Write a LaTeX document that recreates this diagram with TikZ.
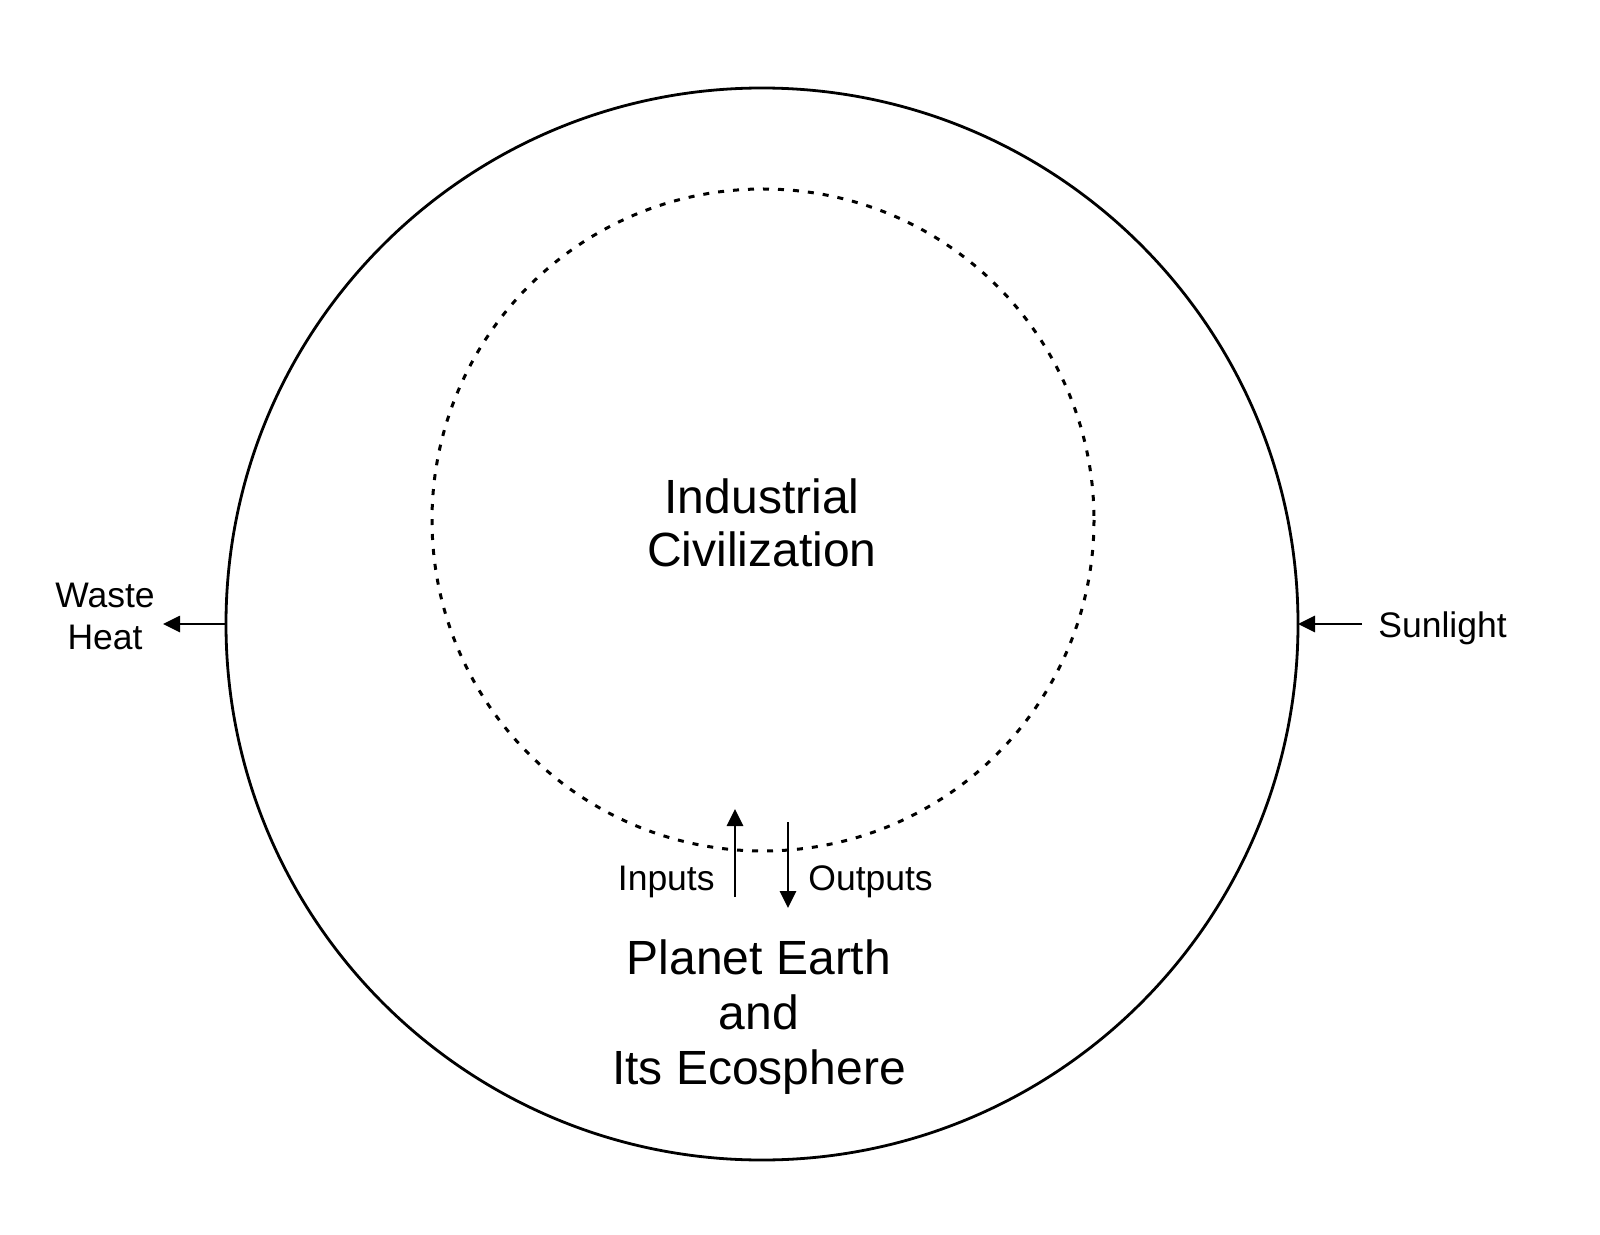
\documentclass[tikz,border=0pt]{standalone}
\usepackage{fontspec}
\setmainfont{Liberation Sans}
\usetikzlibrary{arrows.meta,positioning}
\tikzset{
  bigtext/.style={inner sep=0pt,align=center,font=\fontsize{24}{26.5}\selectfont},
  smalltext/.style={inner sep=0pt,align=center,font=\fontsize{17.75}{21}\selectfont},
  flow/.style={line width=1.4pt,-{Triangle[length=8.5pt,width=8pt]}}
}
\begin{document}
\begin{tikzpicture}[x=0.5pt,y=-0.5pt,line cap=butt,line join=round]
  \useasboundingbox (0,0) rectangle (1600,1235);
  \coordinate (E) at (762,624);\coordinate (C) at (763,520);
  \coordinate (earthW) at (226,624);\coordinate (earthE) at (1298,624);
  \coordinate (inA) at (735,897);\coordinate (inB) at (735,809);
  \coordinate (outA) at (788,822);\coordinate (outB) at (788,908);
  \draw[line width=1.4pt] (E) circle[radius=536];
  \draw[line width=1.5pt,dash pattern=on 3pt off 4.5pt] (C) circle[radius=331];
  \node[bigtext] (civ) at (762,523) {Industrial\\Civilization};
  \node[bigtext,font=\fontsize{24}{27.5}\selectfont] (planet) at (759,1017) {Planet Earth\\and\\Its Ecosphere};
  \node[smalltext] (waste) at (105,616) {Waste\\Heat};
  \node[smalltext,anchor=west] (sun) at (1378,628) {Sunlight};
  \node[smalltext,anchor=east] (inputs) at (715,882) {Inputs};
  \node[smalltext,anchor=west] (outputs) at (808,882) {Outputs};
  \draw[flow] (earthW) -- ([xshift=4pt]earthW -| waste.east);
  \draw[flow] ([xshift=-8pt]sun.west |- earthE) -- (earthE);
  \draw[flow] (inA) -- (inB);\draw[flow] (outA) -- (outB);
\end{tikzpicture}
\end{document}
